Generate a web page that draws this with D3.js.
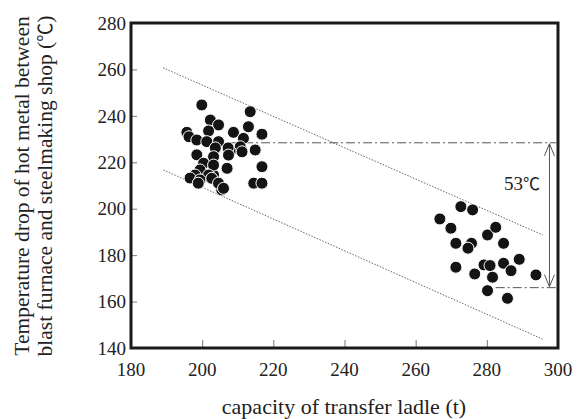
<!DOCTYPE html>
<html><head><meta charset="utf-8">
<script src="https://cdn.jsdelivr.net/npm/d3@7"></script>
<style>body{margin:0;background:#fff}svg{display:block}</style>
</head><body>
<script>
const xTicks = [180,200,220,240,260,280,300];
const yTicks = [140,160,180,200,220,240,260,280];
const group1 = [
 [199.9,244.7],[202.3,238.2],[204.6,236.1],[201.8,233.5],[195.7,232.9],[196.3,231.0],
 [198.5,229.6],[201.3,228.9],[204.6,228.9],[208.8,232.9],[213.5,241.8],[213.0,235.3],
 [216.8,232.1],[211.6,230.3],[210.7,226.7],[214.9,225.3],[207.9,224.6],[203.7,226.2],
 [207.3,226.2],[203.2,222.4],[198.5,223.2],[207.0,217.4],[216.8,218.1],[214.5,211.0],
 [216.8,211.0],[203.2,214.5],[205.5,208.1],[200.4,219.6],[203.2,218.8],[199.4,216.7],
 [198.0,214.5],[201.8,214.5],[196.6,213.2],[199.4,212.4],[202.7,213.1],[198.9,211.0],
 [204.6,211.0],[206.0,208.8],[207.4,223.1],[211.2,224.5]
];
const group2 = [
 [272.7,200.9],[276.0,199.5],[266.8,195.6],[269.9,191.6],[271.3,185.1],[275.7,185.1],
 [274.7,183.0],[280.2,188.7],[282.5,192.0],[284.7,185.1],[289.1,178.2],[279.2,175.8],
 [280.9,175.5],[284.7,176.5],[286.8,173.3],[276.6,171.9],[281.6,170.5],[293.8,171.5],
 [280.2,164.7],[285.8,161.4],[271.3,174.8]
];
const upperBand = [[189.0,260.7],[295.7,188.7]];
const lowerBand = [[189.1,216.7],[295.7,143.8]];
const refHigh = [[207,228.4],[299.5,228.4]];
const refLow = [[282.5,166.0],[299.5,166.0]];
const arrowX = 297.6;
const diffValue = "53";
const degree = "℃";

const W=586,H=419;
const svg=d3.select("body").append("svg").attr("width",W).attr("height",H);
const x=d3.scaleLinear().domain([180,300]).range([131,558]);
const y=d3.scaleLinear().domain([140,280]).range([348,23]);
const font="'Liberation Serif','Times New Roman',serif";
const cjk="'Noto Sans CJK JP','Noto Sans CJK SC',sans-serif";

// ticks (inward)
const gx=svg.append("g").attr("transform","translate(0,348)")
 .call(d3.axisTop(x).tickValues(xTicks).tickSize(8).tickFormat(""));
gx.select(".domain").remove();
gx.selectAll("line").attr("stroke","#777").attr("stroke-width",1);
const gy=svg.append("g").attr("transform","translate(131,0)")
 .call(d3.axisRight(y).tickValues(yTicks).tickSize(6).tickFormat(""));
gy.select(".domain").remove();
gy.selectAll("line").attr("stroke","#777").attr("stroke-width",1);

// tick labels
svg.append("g").selectAll("text").data(xTicks).join("text")
 .attr("x",d=>x(d)).attr("y",376).attr("text-anchor","middle")
 .attr("font-family",font).attr("font-size",19).attr("fill","#222").text(d=>d);
svg.append("g").selectAll("text").data(yTicks).join("text")
 .attr("x",126).attr("y",d=>y(d)).attr("dy","0.35em").attr("text-anchor","end")
 .attr("font-family",font).attr("font-size",19).attr("fill","#222").text(d=>d);

const line=d3.line().x(d=>x(d[0])).y(d=>y(d[1]));
[upperBand,lowerBand].forEach(b=>svg.append("path").attr("d",line(b))
 .attr("fill","none").attr("stroke","#555").attr("stroke-width",0.9).attr("stroke-dasharray","1.5,1.5"));
[refHigh,refLow].forEach(b=>svg.append("path").attr("d",line(b))
 .attr("fill","none").attr("stroke","#555").attr("stroke-width",1).attr("stroke-dasharray","9,3,2,3"));

// points
svg.append("g").selectAll("circle").data(group1.concat(group2)).join("circle")
 .attr("cx",d=>x(d[0])).attr("cy",d=>y(d[1])).attr("r",6)
 .attr("fill","#141414").attr("stroke","#fff").attr("stroke-width",1);

// double arrow
const ax=x(arrowX), y1=y(refHigh[0][1]), y2=y(refLow[0][1]);
svg.append("line").attr("x1",ax).attr("x2",ax).attr("y1",y1+1).attr("y2",y2-1)
 .attr("stroke","#555").attr("stroke-width",1);
svg.append("path").attr("d",`M${ax-5},${y1+13}L${ax},${y1+1}L${ax+5},${y1+13}`)
 .attr("fill","none").attr("stroke","#555").attr("stroke-width",1);
svg.append("path").attr("d",`M${ax-5},${y2-13}L${ax},${y2-1}L${ax+5},${y2-13}`)
 .attr("fill","none").attr("stroke","#555").attr("stroke-width",1);
const dl=svg.append("text").attr("x",504).attr("y",190)
 .attr("font-family",font).attr("font-size",19).attr("fill","#222");
dl.append("tspan").text(diffValue);
dl.append("tspan").attr("font-family",cjk).attr("font-size",17).text(degree);

// frame
svg.append("rect").attr("x",131).attr("y",23).attr("width",427).attr("height",325)
 .attr("fill","none").attr("stroke","#1a1a1a").attr("stroke-width",3);

// axis titles
svg.append("text").attr("x",344).attr("y",414).attr("text-anchor","middle")
 .attr("font-family",font).attr("font-size",22).attr("fill","#222").text("capacity of transfer ladle (t)");
const yt=svg.append("text").attr("transform","translate(0,186) rotate(-90)")
 .attr("text-anchor","middle").attr("font-family",font).attr("font-size",21.5).attr("fill","#222");
yt.append("tspan").attr("x",0).attr("y",29).text("Temperature drop of hot metal between");
const l2=yt.append("tspan").attr("x",0).attr("y",52);
l2.append("tspan").text("blast furnace and steelmaking shop (");
l2.append("tspan").attr("font-family",cjk).attr("font-size",19).text(degree);
l2.append("tspan").text(")");
</script>
</body></html>
